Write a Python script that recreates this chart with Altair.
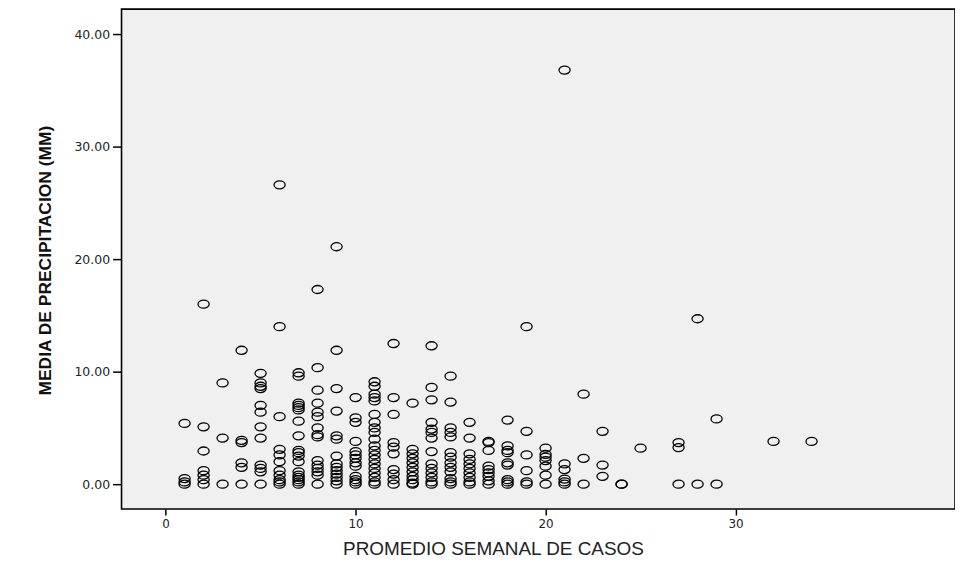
import altair as alt
import pandas as pd

# x value (weekly mean of cases) per column, and precipitation values
casos = (
    [1] * 4 + [2] * 7 + [3] * 3 + [4] * 6 + [5] * 12 + [6] * 11 + [7] * 18 + [8] * 15
    + [9] * 14 + [10] * 13 + [11] * 20 + [12] * 10 + [13] * 11 + [14] * 14 + [15] * 13
    + [16] * 10 + [17] * 9 + [18] * 9 + [19] * 6 + [20] * 7 + [21] * 6 + [22] * 3
    + [23] * 3 + [24] * 2 + [25] * 1 + [27] * 3 + [28] * 2 + [29] * 2 + [32] * 1 + [34] * 1
)
precip = [
    0, 0.2, 0.5, 5.4,
    16.0, 5.1, 2.95, 1.2, 0.8, 0.4, 0,
    9.0, 4.1, 0,
    11.9, 3.9, 3.7, 1.9, 1.5, 0,
    9.85, 9.0, 8.7, 8.5, 7.0, 6.4, 5.1, 4.1, 1.7, 1.4, 1.1, 0,
    26.6, 14.0, 6.0, 3.1, 2.6, 2.0, 1.2, 0.8, 0.4, 0.2, 0,
    9.9, 9.6, 7.2, 7.0, 6.8, 6.6, 5.6, 4.3, 3.0, 2.8, 2.5, 2.0, 1.1, 0.8, 0.6, 0.4, 0.2, 0,
    17.3, 10.35, 8.35, 7.2, 6.4, 6.0, 5.0, 4.4, 4.2, 2.1, 1.7, 1.4, 1.1, 0.8, 0,
    21.1, 11.9, 8.5, 6.5, 4.3, 4.0, 2.5, 1.8, 1.5, 1.2, 0.9, 0.6, 0.3, 0,
    7.7, 5.9, 5.5, 3.8, 2.9, 2.6, 2.3, 1.9, 1.6, 0.7, 0.4, 0.2, 0,
    9.1, 8.7, 8.0, 7.7, 7.4, 6.2, 5.5, 5.0, 4.6, 4.0, 3.4, 3.0, 2.6, 2.2, 1.8, 1.4, 1.0, 0.6, 0.2, 0,
    12.5, 7.7, 6.2, 3.7, 3.3, 2.7, 1.3, 0.9, 0.4, 0,
    7.2, 3.1, 2.7, 2.3, 1.9, 1.5, 1.1, 0.7, 0.4, 0.1, 0,
    12.3, 8.6, 7.5, 5.5, 4.9, 4.6, 4.1, 2.9, 1.8, 1.4, 1.0, 0.6, 0.2, 0,
    9.6, 7.3, 5.0, 4.6, 4.2, 2.8, 2.4, 1.9, 1.5, 1.1, 0.5, 0.2, 0,
    5.5, 4.1, 2.7, 2.2, 1.8, 1.4, 1.0, 0.6, 0.2, 0,
    3.8, 3.7, 3.0, 1.6, 1.3, 1.0, 0.7, 0.3, 0,
    5.7, 3.4, 3.0, 2.8, 1.9, 1.7, 0.4, 0.2, 0,
    14.0, 4.7, 2.6, 1.2, 0.2, 0,
    3.2, 2.65, 2.4, 2.1, 1.6, 0.8, 0,
    36.8, 1.8, 1.3, 0.45, 0.2, 0,
    8.0, 2.3, 0,
    4.7, 1.7, 0.7,
    0, 0,
    3.2,
    3.7, 3.25, 0,
    14.7, 0,
    5.8, 0,
    3.8,
    3.8,
]
x_ticks = [0, 10, 20, 30]
y_ticks = [0, 10, 20, 30, 40]

df = pd.DataFrame({"casos": casos, "precip": precip})

ellipse = "M -1 0 A 1 0.72 0 1 0 1 0 A 1 0.72 0 1 0 -1 0 Z"

chart = (
    alt.Chart(df)
    .mark_point(shape=ellipse, filled=False, color="black", strokeWidth=1.3, size=125, opacity=1)
    .encode(
        x=alt.X(
            "casos:Q",
            scale=alt.Scale(domain=[-2.32, 41.55], nice=False, zero=False),
            axis=alt.Axis(
                title="PROMEDIO SEMANAL DE CASOS",
                values=x_ticks,
                format="d",
                grid=False,
                domain=False,
                tickColor="black",
                tickWidth=1.5,
                tickSize=6,
                labelPadding=4,
                labelFont="DejaVu Sans",
                labelFontSize=12,
                labelColor="#222222",
                titleFont="Liberation Sans",
                titleFontSize=19,
                titleFontWeight="normal",
                titleColor="#222222",
                titleX=373,
                titleY=40,
                titleAlign="center",
                titleBaseline="middle",
            ),
        ),
        y=alt.Y(
            "precip:Q",
            scale=alt.Scale(domain=[-2.21, 42.21], nice=False, zero=False),
            axis=alt.Axis(
                title="MEDIA DE PRECIPITACION (MM)",
                values=y_ticks,
                format=".2f",
                grid=False,
                domain=False,
                tickColor="black",
                tickWidth=1.5,
                tickSize=9,
                labelPadding=3,
                labelFont="DejaVu Sans",
                labelFontSize=12.5,
                labelColor="#222222",
                titleFont="Liberation Sans",
                titleFontSize=17.5,
                titleFontWeight="bold",
                titleColor="#111111",
                titleX=-76,
                titleY=252,
                titleAlign="center",
                titleBaseline="middle",
            ),
        ),
    )
    .properties(width=837, height=502)
    .configure(background="white", padding={"left": 114, "top": 0, "right": 0, "bottom": 54}, autosize="none")
    .configure_view(fill="#f0f0f0", stroke="black", strokeWidth=1.6)
)

chart.save("out.html", embed_options={"renderer": "svg", "actions": False})
